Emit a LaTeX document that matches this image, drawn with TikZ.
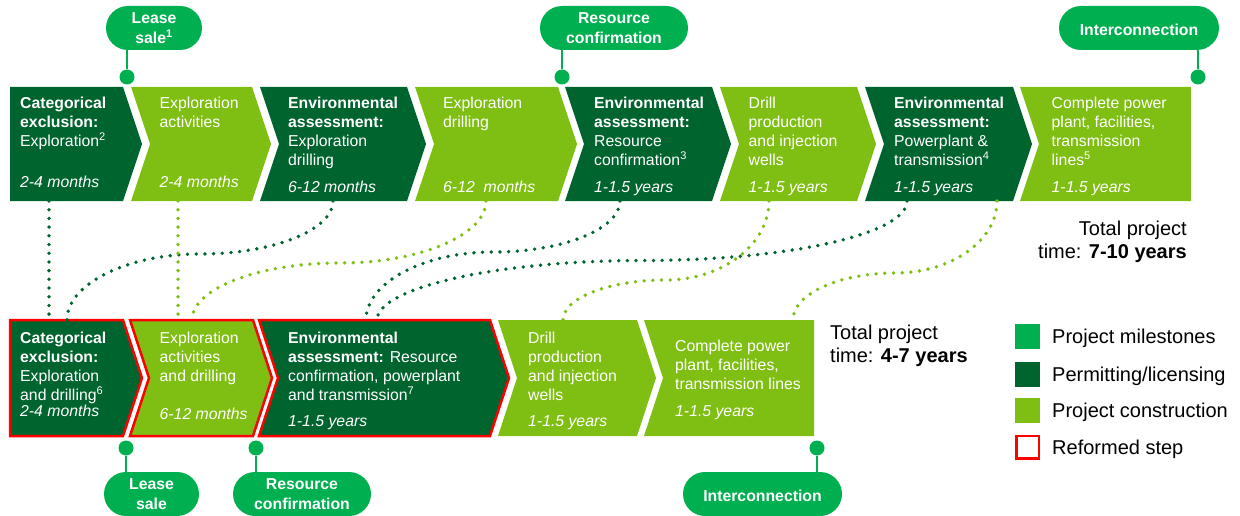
\documentclass[tikz,border=0pt]{standalone}
\usepackage{fontspec}
\setmainfont{Liberation Sans}
\usetikzlibrary{calc}
\definecolor{dkgreen}{RGB}{0,100,46}
\definecolor{ltgreen}{RGB}{127,190,18}
\definecolor{msgreen}{RGB}{0,176,80}
\definecolor{reformred}{RGB}{255,0,0}
% chevron: [style](left,right,top,bottom)(notch,tip)
\def\chevron[#1](#2,#3,#4,#5)(#6,#7){\path[#1] (#2,#4) -- (#3,#4) -- ({#3+#7},{(#4+#5)/2}) -- (#3,#5) -- (#2,#5) -- ({#2+#6},{(#4+#5)/2}) -- cycle;}
\tikzset{
  dkbox/.style={fill=dkgreen},
  ltbox/.style={fill=ltgreen},
  reform/.style={draw=reformred, line width=2.5pt},
  boxtext/.style={anchor=north west, inner sep=0pt, align=left, text=white, font=\fontsize{15.8}{19}\selectfont},
  durtext/.style={anchor=base west, inner sep=0pt, text=white, font=\fontsize{15.8}{19}\selectfont\itshape},
  milestone/.style={rectangle, rounded corners=22pt, fill=msgreen, text=white, minimum height=44pt, inner sep=0pt, align=center, font=\fontsize{15.8}{19.5}\selectfont\bfseries, execute at begin node={\rule{0pt}{15.5pt}}},
  msdot/.style={circle, fill=msgreen, minimum size=15pt, inner sep=0pt},
  stem/.style={draw=msgreen, line width=2pt},
  dotdk/.style={draw=dkgreen, line width=3.8pt, line cap=round, dash pattern=on 0pt off 8.7pt},
  dotlt/.style={draw=ltgreen, line width=3.8pt, line cap=round, dash pattern=on 0pt off 8.7pt},
  legbox/.style={minimum size=25pt, inner sep=0pt},
  legtext/.style={anchor=base west, inner sep=0pt, font=\fontsize{20}{24}\selectfont},
  totaltext/.style={inner sep=0pt, font=\fontsize{20}{23.5}\selectfont}
}
\begin{document}
\begin{tikzpicture}[x=1pt,y=-1pt]
\useasboundingbox (0,0) rectangle (1240,516);

%%% top row
\chevron[dkbox](10,123,87,201)(0,19)
\chevron[ltbox](131,252,87,201)(19,19)
\chevron[dkbox](260,407,87,201)(19,19)
\chevron[ltbox](415,558,87,201)(19,19)
\chevron[dkbox](565,712,87,201)(19,19)
\chevron[ltbox](720,857,87,201)(19,19)
\chevron[dkbox](865,1013,87,201)(19,19)
\chevron[ltbox](1020,1191,87,201)(19,0)

\node[boxtext] (t1txt) at (20,96.5) {\textbf{Categorical}\\\textbf{exclusion:}\\Exploration\textsuperscript{2}};
\node[durtext] (t1dur) at (20,187) {2-4 months};
\node[boxtext] (t2txt) at (159.5,96.5) {Exploration\\activities};
\node[durtext] (t2dur) at (159.5,187) {2-4 months};
\node[boxtext] (t3txt) at (288,96.5) {\textbf{Environmental}\\\textbf{assessment:}\\Exploration\\drilling};
\node[durtext] (t3dur) at (288,193) {6-12 months};
\node[boxtext] (t4txt) at (443,96.5) {Exploration\\drilling};
\node[durtext] (t4dur) at (443,193) {6-12~ months};
\node[boxtext] (t5txt) at (594,96.5) {\textbf{Environmental}\\\textbf{assessment:}\\Resource\\confirmation\textsuperscript{3}};
\node[durtext] (t5dur) at (594,193) {1-1.5 years};
\node[boxtext] (t6txt) at (748.5,96.5) {Drill\\production\\and injection\\wells};
\node[durtext] (t6dur) at (748.5,193) {1-1.5 years};
\node[boxtext] (t7txt) at (894,96.5) {\textbf{Environmental}\\\textbf{assessment:}\\Powerplant \&\\transmission\textsuperscript{4}};
\node[durtext] (t7dur) at (894,193) {1-1.5 years};
\node[boxtext] (t8txt) at (1051.5,96.5) {Complete power\\plant, facilities,\\transmission\\lines\textsuperscript{5}};
\node[durtext] (t8dur) at (1051.5,193) {1-1.5 years};

%%% bottom row
\chevron[dkbox,reform](10,123,320,436)(0,19)
\chevron[ltbox,reform](130,253,320,436)(19,19)
\chevron[dkbox,reform](259,490,320,436)(19,19)
\chevron[ltbox](498,637,320,436)(19,19)
\chevron[ltbox](644,814,320,436)(19,0)

\node[boxtext] (b1txt) at (20,331.5) {\textbf{Categorical}\\\textbf{exclusion:}\\Exploration\\and drilling\textsuperscript{6}};
\node[durtext] (b1dur) at (20,416.5) {2-4 months};
\node[boxtext] (b2txt) at (159.5,331.5) {Exploration\\activities\\and drilling};
\node[durtext] (b2dur) at (159.5,419) {6-12 months};
\node[boxtext] (b3txt) at (288,331.5) {\textbf{Environmental}\\\textbf{assessment:} Resource\\confirmation, powerplant\\and transmission\textsuperscript{7}};
\node[durtext] (b3dur) at (288,426) {1-1.5 years};
\node[boxtext] (b4txt) at (528,331.5) {Drill\\production\\and injection\\wells};
\node[durtext] (b4dur) at (528,426.5) {1-1.5 years};
\node[boxtext] (b5txt) at (675,340) {Complete power\\plant, facilities,\\transmission lines};
\node[durtext] (b5dur) at (675,416.5) {1-1.5 years};

%%% links between the rows
\coordinate (t1b) at (49,201);  \coordinate (t2b) at (178,201);
\coordinate (t3b) at (333,201); \coordinate (t4b) at (486,201);
\coordinate (t5b) at (620,201); \coordinate (t6b) at (769,201);
\coordinate (t7b) at (907,201); \coordinate (t8b) at (997,201);
\coordinate (b1l) at (49,320);  \coordinate (b1r) at (67,320);
\coordinate (b2l) at (178,320); \coordinate (b2r) at (192,320);
\coordinate (b3l) at (366,320); \coordinate (b3r) at (377,320);
\coordinate (b4t) at (563,320); \coordinate (b5t) at (793,320);

\draw[dotdk] (t1b) -- (b1l);
\draw[dotdk] (t3b) .. controls +(0,29) and +(73,0) .. ($(t3b)!.5!(b1r)+(0,-6.5)$) .. controls +(-73,0) and +(0,-36) .. (b1r);
\draw[dotdk] (t5b) .. controls +(0,28) and +(70,0) .. ($(t5b)!.5!(b3l)+(0,-8.5)$) .. controls +(-70,0) and +(0,-37) .. (b3l);
\draw[dotdk] (t7b) .. controls +(0,33) and +(146,0) .. ($(t7b)!.5!(b3r)$) .. controls +(-146,0) and +(0,-32) .. (b3r);
\draw[dotlt] (t2b) -- (b2l);
\draw[dotlt] (t4b) .. controls +(0,34) and +(81,0) .. ($(t4b)!.5!(b2r)+(0,2.5)$) .. controls +(-81,0) and +(0,-31) .. (b2r);
\draw[dotlt] (t6b) .. controls +(0,43) and +(57,0) .. ($(t6b)!.5!(b4t)+(0,19.5)$) .. controls +(-57,0) and +(0,-22) .. (b4t);
\draw[dotlt] (t8b) .. controls +(0,40) and +(56,0) .. ($(t8b)!.5!(b5t)+(0,12.5)$) .. controls +(-56,0) and +(0,-26) .. (b5t);

%%% milestones
\node[milestone, minimum width=96pt] (ms1) at (154,28) {Lease\\sale\textsuperscript{1}};
\node[milestone, minimum width=148pt] (ms2) at (614,28) {Resource\\confirmation};
\node[milestone, minimum width=160pt] (ms3) at (1139,28) {Interconnection};
\node[msdot] (md1) at (127,77) {};
\node[msdot] (md2) at (562,77) {};
\node[msdot] (md3) at (1198,77) {};
\draw[stem] (md1) -- (md1 |- ms1.south);
\draw[stem] (md2) -- (md2 |- ms2.south);
\draw[stem] (md3) -- (md3 |- ms3.south);

\node[milestone, minimum width=95pt] (ms4) at (151.5,494) {Lease\\sale};
\node[milestone, minimum width=138pt] (ms5) at (302,494) {Resource\\confirmation};
\node[milestone, minimum width=159pt] (ms6) at (762.5,494) {Interconnection};
\node[msdot] (md4) at (126,448) {};
\node[msdot] (md5) at (256,448) {};
\node[msdot] (md6) at (817,448) {};
\draw[stem] (md4) -- (md4 |- ms4.north);
\draw[stem] (md5) -- (md5 |- ms5.north);
\draw[stem] (md6) -- (md6 |- ms6.north);

%%% totals
\node[totaltext, anchor=north east, align=right] (tot1) at (1187,220.5) {Total project\\time: \textbf{7-10 years}};
\node[totaltext, anchor=north west, align=left] (tot2) at (830,324.5) {Total project\\time: \textbf{4-7 years}};

%%% legend
\node[legbox, fill=msgreen] (lg1) at (1027.5,336) {};
\node[legbox, fill=dkgreen] (lg2) at (1027.5,374) {};
\node[legbox, fill=ltgreen] (lg3) at (1027.5,410.5) {};
\node[legbox, draw=reformred, line width=2.5pt, minimum size=22.5pt] (lg4) at (1027.5,447) {};
\node[legtext] (lt1) at (1052,343) {Project milestones};
\node[legtext] (lt2) at (1052,381) {Permitting/licensing};
\node[legtext] (lt3) at (1052,417.5) {Project construction};
\node[legtext] (lt4) at (1052,454) {Reformed step};

\end{tikzpicture}
\end{document}
